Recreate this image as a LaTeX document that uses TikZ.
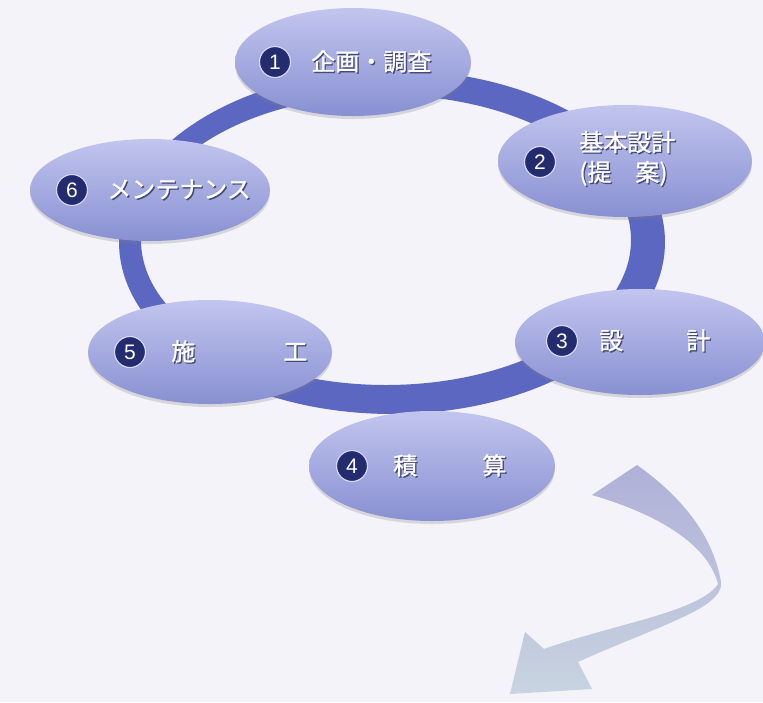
\documentclass[tikz,border=0pt]{standalone}
\usepackage{fontspec}
\setmainfont{Noto Sans CJK JP}[FakeBold=1]
\newfontfamily\numfont{Liberation Sans}
\usetikzlibrary{positioning,shapes.geometric,shadows}

\definecolor{bgc}{RGB}{243,243,249}
\definecolor{ringc}{RGB}{92,103,194}
\definecolor{elltop}{RGB}{194,197,238}
\definecolor{ellbot}{RGB}{136,144,210}
\definecolor{numc}{RGB}{34,44,110}
\definecolor{txtshadow}{RGB}{70,74,120}
\definecolor{arrtop}{RGB}{176,176,216}
\definecolor{arrbot}{RGB}{200,212,224}

\newcommand{\embossed}[1]{\leavevmode\rlap{\kern1.3pt\raisebox{-1.3pt}{\textcolor{txtshadow}{#1}}}\textcolor{white}{#1}}

\begin{document}
\begin{tikzpicture}[x=1pt,y=-1pt,
  phase/.style={ellipse, inner sep=0pt, top color=elltop, bottom color=ellbot,
    drop shadow={opacity=0.25, shadow xshift=0pt, shadow yshift=-3pt}},
  numball/.style={circle, minimum size=31pt, inner sep=0pt, fill=numc,
    draw=elltop!70!white, line width=1.2pt, text=white, font=\numfont\fontsize{21}{21}\selectfont},
  lbl/.style={inner sep=0pt, font=\fontsize{24}{30}\selectfont, align=left}]
\path[use as bounding box, fill=bgc] (0,0) rectangle (763,702);

% ring
\fill[ringc, even odd rule] (392,242) ellipse [x radius=273, y radius=172]
  (386,240) ellipse [x radius=245, y radius=145];

% phases
\node[phase, minimum width=236pt, minimum height=108pt] (e1) at (353,62) {};
\node[phase, minimum width=254pt, minimum height=112pt] (e2) at (625,161) {};
\node[phase, minimum width=250pt, minimum height=106pt] (e3) at (640,342) {};
\node[phase, minimum width=246pt, minimum height=110pt] (e4) at (432,466) {};
\node[phase, minimum width=244pt, minimum height=104pt] (e5) at (210,352) {};
\node[phase, minimum width=240pt, minimum height=102pt] (e6) at (150,190) {};

\node[numball] (n1) at (275,62) {1};
\node[numball] (n2) at (540,162) {2};
\node[numball] (n3) at (562,341) {3};
\node[numball] (n4) at (352,466) {4};
\node[numball] (n5) at (130,352) {5};
\node[numball] (n6) at (72,190) {6};

\node[lbl, right=20pt of n1] (t1) {\embossed{企画・調査}};
\node[lbl, right=23pt of n2, yshift=3pt] (t2) {\embossed{基本設計}\\\embossed{(提\hspace{1em}案)}};
\node[lbl, right=21pt of n3] (t3) {\embossed{設\hspace{63pt}計}};
\node[lbl, right=25pt of n4] (t4) {\embossed{積\hspace{65pt}算}};
\node[lbl, right=25pt of n5] (t5) {\embossed{施\hspace{88pt}工}};
\node[lbl, right=19pt of n6] (t6) {\embossed{メンテナンス}};

% next step arrow
\shade[top color=arrtop, bottom color=arrbot]
  (637,465) .. controls (675,492) and (712,530) .. (721,582)
  .. controls (724,608) and (660,625) .. (578,662)
  -- (592,689) -- (510,694) -- (525,632) -- (544,649)
  .. controls (610,625) and (700,612) .. (718,584)
  .. controls (708,545) and (660,515) .. (592,495) -- cycle;
\end{tikzpicture}
\end{document}
